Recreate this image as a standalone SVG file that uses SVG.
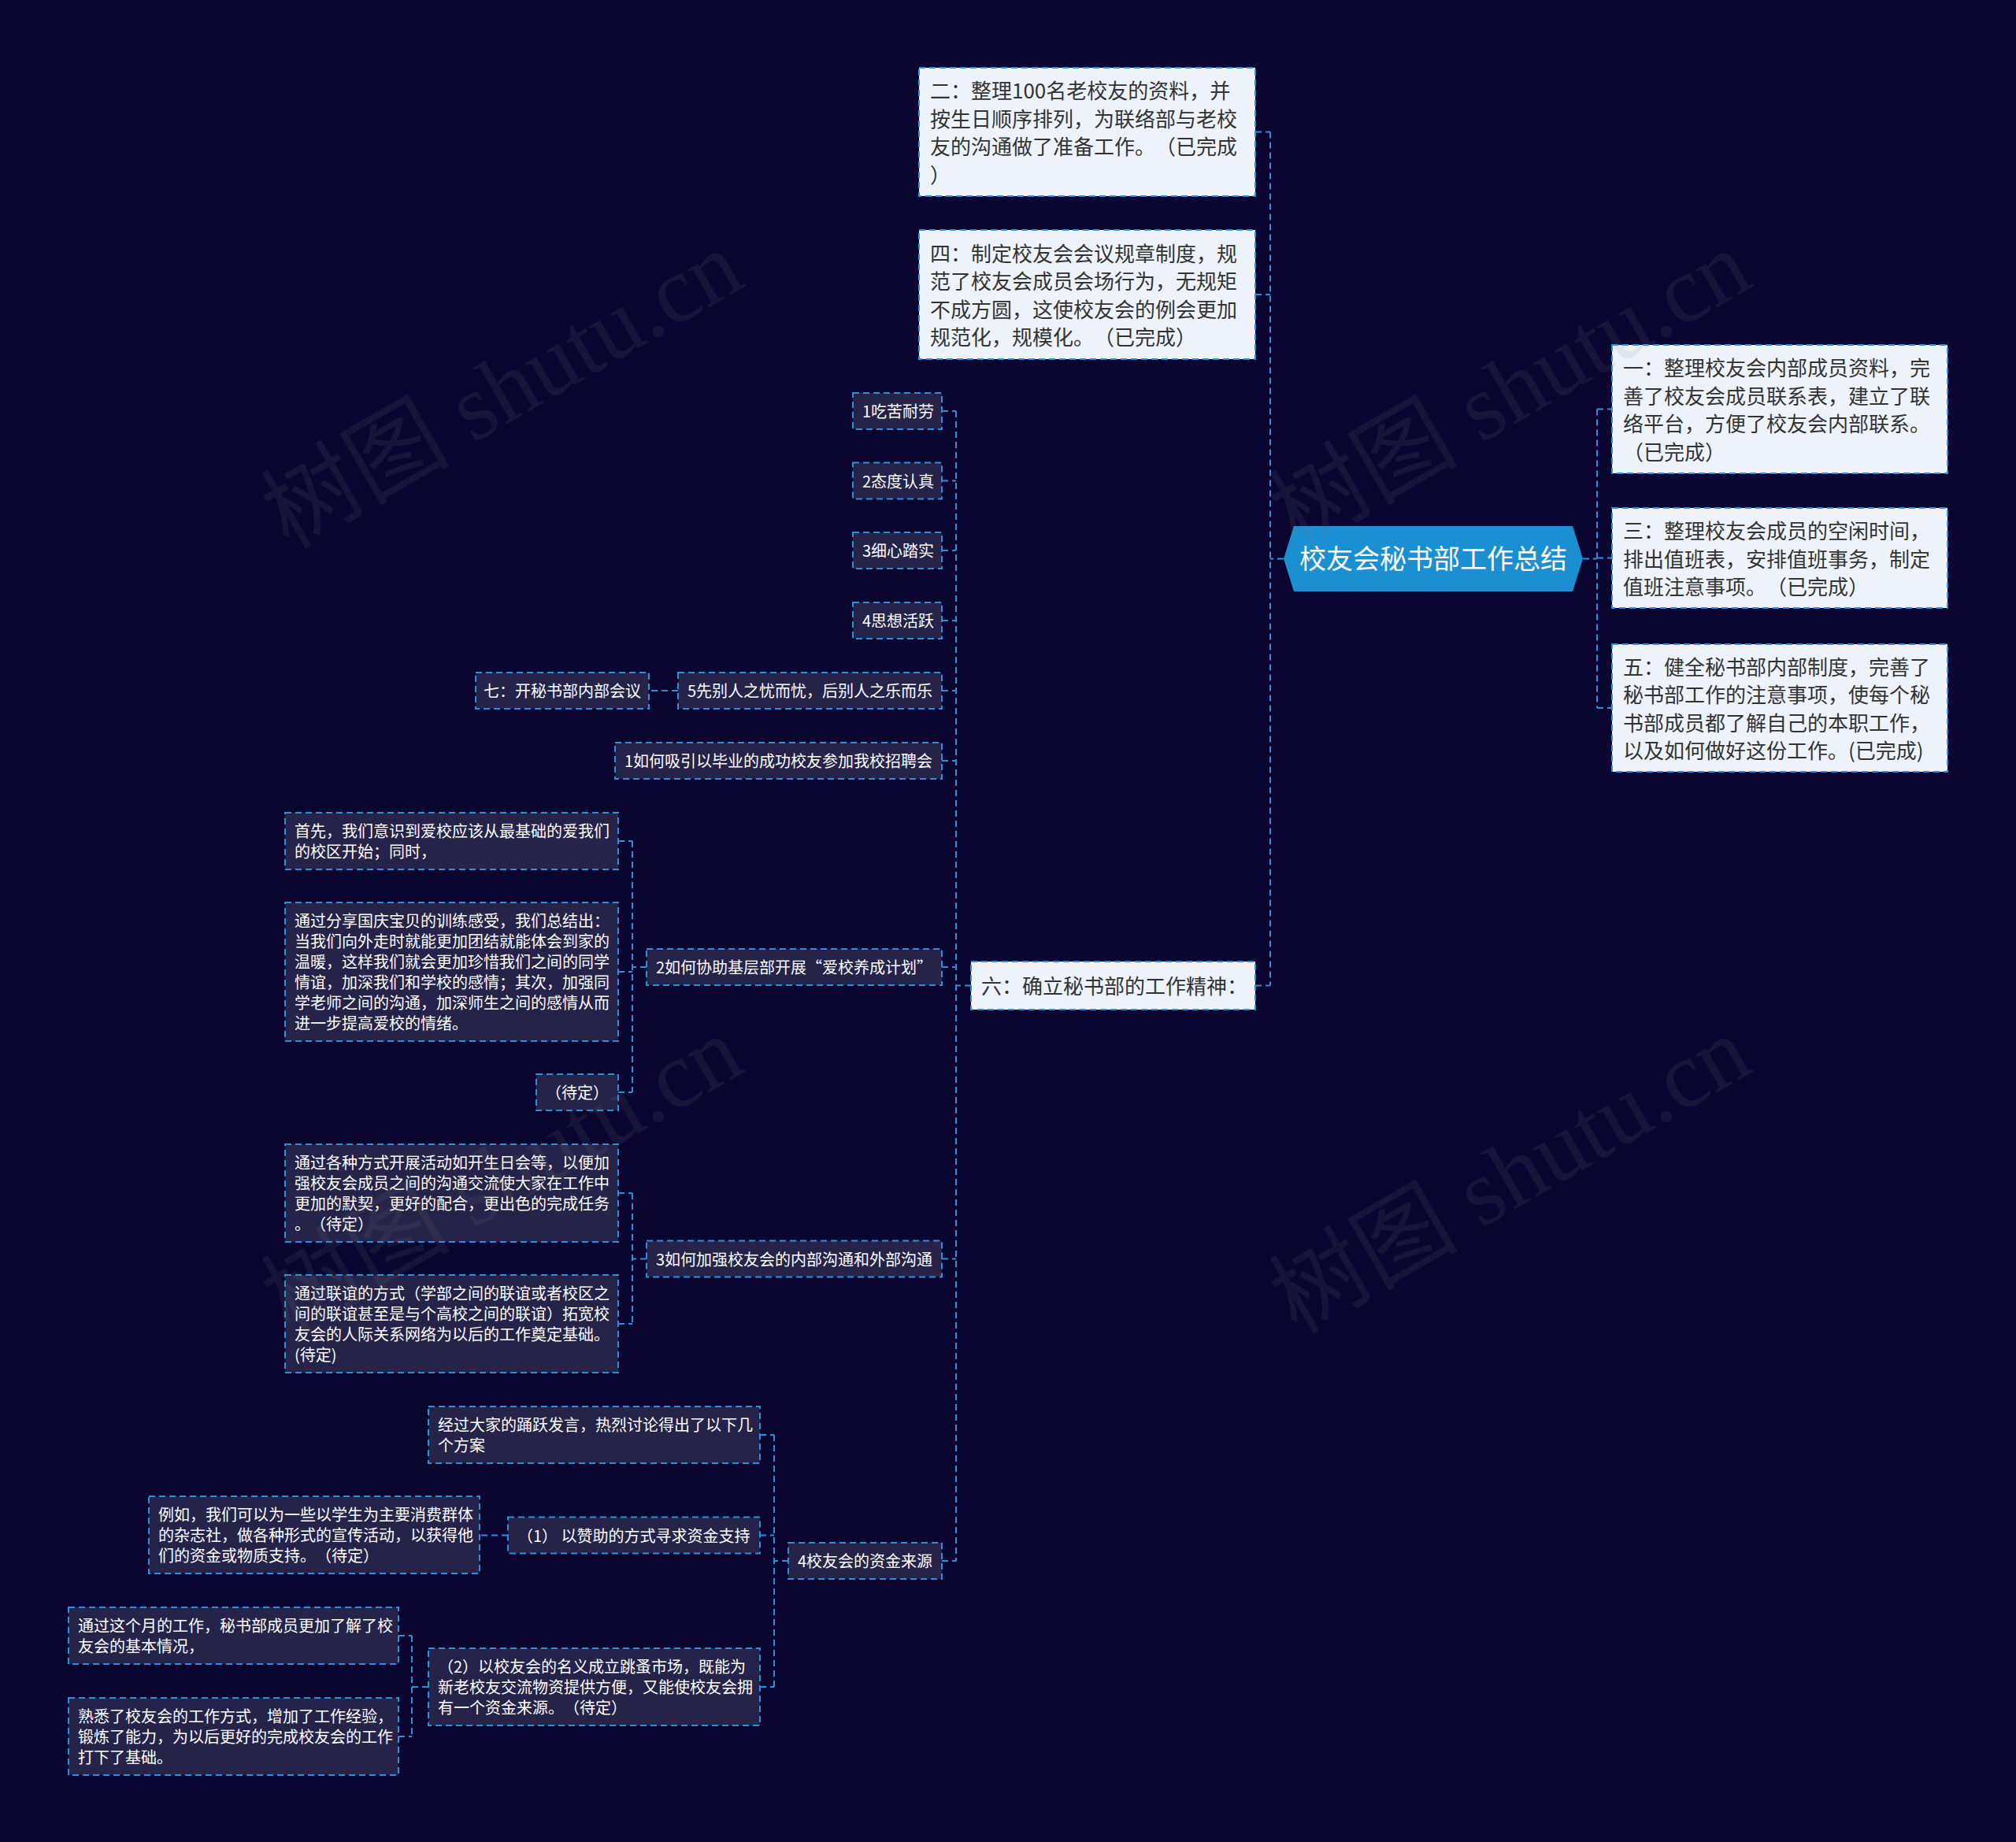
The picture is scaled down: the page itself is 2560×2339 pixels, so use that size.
<svg xmlns="http://www.w3.org/2000/svg" width="2560" height="2339" viewBox="0 0 2560 2339">
<style>
text{text-spacing-trim:space-all}
.l1 rect{fill:#eef3fb;stroke:#2e8fd9;stroke-width:2;stroke-dasharray:8 5}
.l2 rect{fill:#25234a;stroke:#2e8fd9;stroke-width:2;stroke-dasharray:8 5}
.l1 text{font-family:"Noto Sans CJK SC","Microsoft YaHei",sans-serif;font-size:26px;fill:#333333}
.l2 text{font-family:"Noto Sans CJK SC","Microsoft YaHei",sans-serif;font-size:20px;fill:#ffffff}
.conn path{fill:none;stroke:#2e8fd9;stroke-width:2;stroke-dasharray:8 5}
.wm{font-family:"Liberation Serif","Noto Sans CJK SC",serif;font-size:120px;fill:#808080;opacity:0.12}
</style>
<rect x="0" y="0" width="2560" height="2339" fill="#090530"/>

<g id="connectors" class="conn">
<path d="M1630,709.5 H1613 M1613,167.5 V1251.5 M1594,167.5 H1613 M1594,374 H1613 M1594,1251.5 H1613"/>
<path d="M2010,709.5 H2028 M2028,519.5 V899 M2028,519.5 H2047 M2028,708.5 H2047 M2028,899 H2047"/>
<path d="M1233,1251.5 H1214 M1214,522 V1982 M1196,522 H1214 M1196,610.5 H1214 M1196,699 H1214 M1196,788 H1214 M1196,877 H1214 M1196,966 H1214 M1196,1228 H1214 M1196,1598.5 H1214 M1196,1982 H1214"/>
<path d="M861,877 H824"/>
<path d="M821,1228 H803 M803,1068 V1387 M785,1068 H803 M785,1234 H803 M785,1387 H803"/>
<path d="M821,1598.5 H803 M803,1515 V1681 M785,1515 H803 M785,1681 H803"/>
<path d="M1001,1982 H983 M983,1822 V2142 M965,1822 H983 M965,1949.5 H983 M965,2142 H983"/>
<path d="M645,1949.5 H609"/>
<path d="M544,2142 H523 M523,2077 V2205 M506,2077 H523 M506,2205 H523"/>
</g>

<g id="root">
<polygon points="1630,709.5 1643,668 1997,668 2010,709.5 1997,751 1643,751" fill="#1a90d2"/>
<text x="1820" y="722" text-anchor="middle" font-family="Noto Sans CJK SC, Microsoft YaHei, sans-serif" font-size="34" fill="#ffffff">校友会秘书部工作总结</text>
</g>

<g id="n2" class="l1">
<rect x="1167" y="86" width="427" height="163"/>
<text x="1181" y="125">二：整理100名老校友的资料，并</text>
<text x="1181" y="161">按生日顺序排列，为联络部与老校</text>
<text x="1181" y="196">友的沟通做了准备工作。（已完成</text>
<text x="1181" y="232">）</text>
</g>
<g id="n4" class="l1">
<rect x="1167" y="292" width="427" height="164"/>
<text x="1181" y="332">四：制定校友会会议规章制度，规</text>
<text x="1181" y="367">范了校友会成员会场行为，无规矩</text>
<text x="1181" y="403">不成方圆，这使校友会的例会更加</text>
<text x="1181" y="438">规范化，规模化。（已完成）</text>
</g>
<g id="n6" class="l1">
<rect x="1233" y="1221" width="361" height="61"/>
<text x="1246" y="1262">六：确立秘书部的工作精神：</text>
</g>
<g id="n1" class="l1">
<rect x="2047" y="438" width="426" height="163"/>
<text x="2061" y="477">一：整理校友会内部成员资料，完</text>
<text x="2061" y="513">善了校友会成员联系表，建立了联</text>
<text x="2061" y="548">络平台，方便了校友会内部联系。</text>
<text x="2061" y="584">（已完成）</text>
</g>
<g id="n3" class="l1">
<rect x="2047" y="645" width="426" height="127"/>
<text x="2061" y="684">三：整理校友会成员的空闲时间，</text>
<text x="2061" y="720">排出值班表，安排值班事务，制定</text>
<text x="2061" y="755">值班注意事项。（已完成）</text>
</g>
<g id="n5" class="l1">
<rect x="2047" y="818" width="426" height="162"/>
<text x="2061" y="857">五：健全秘书部内部制度，完善了</text>
<text x="2061" y="892">秘书部工作的注意事项，使每个秘</text>
<text x="2061" y="928">书部成员都了解自己的本职工作，</text>
<text x="2061" y="963">以及如何做好这份工作。(已完成)</text>
</g>

<g id="s1" class="l2"><rect x="1083" y="499" width="113" height="46"/><text x="1095" y="530">1吃苦耐劳</text></g>
<g id="s2" class="l2"><rect x="1083" y="587.5" width="113" height="46"/><text x="1095" y="618.5">2态度认真</text></g>
<g id="s3" class="l2"><rect x="1083" y="676" width="113" height="46"/><text x="1095" y="707">3细心踏实</text></g>
<g id="s4" class="l2"><rect x="1083" y="765" width="113" height="46"/><text x="1095" y="796">4思想活跃</text></g>
<g id="s5" class="l2"><rect x="861" y="854" width="335" height="46"/><text x="873" y="885">5先别人之忧而忧，后别人之乐而乐</text></g>
<g id="s7" class="l2"><rect x="604" y="854" width="220" height="46"/><text x="614" y="885">七：开秘书部内部会议</text></g>
<g id="s6" class="l2"><rect x="781" y="943" width="415" height="46"/><text x="793" y="974">1如何吸引以毕业的成功校友参加我校招聘会</text></g>
<g id="q2" class="l2"><rect x="821" y="1205" width="375" height="46"/><text x="833" y="1236">2如何协助基层部开展“爱校养成计划”</text></g>
<g id="q3" class="l2"><rect x="821" y="1575.5" width="375" height="46"/><text x="833" y="1606.5">3如何加强校友会的内部沟通和外部沟通</text></g>
<g id="q4" class="l2"><rect x="1001" y="1959" width="195" height="46"/><text x="1013" y="1990">4校友会的资金来源</text></g>

<g id="qa" class="l2"><rect x="362" y="1032" width="423" height="72"/>
<text x="374" y="1063">首先，我们意识到爱校应该从最基础的爱我们</text>
<text x="374" y="1089">的校区开始；同时，</text></g>
<g id="qb" class="l2"><rect x="362" y="1146" width="423" height="176"/>
<text x="374" y="1177">通过分享国庆宝贝的训练感受，我们总结出：</text>
<text x="374" y="1203">当我们向外走时就能更加团结就能体会到家的</text>
<text x="374" y="1229">温暖，这样我们就会更加珍惜我们之间的同学</text>
<text x="374" y="1255">情谊，加深我们和学校的感情；其次，加强同</text>
<text x="374" y="1281">学老师之间的沟通，加深师生之间的感情从而</text>
<text x="374" y="1307">进一步提高爱校的情绪。</text></g>
<g id="qc" class="l2"><rect x="681" y="1364" width="104" height="46"/><text x="693" y="1395">（待定）</text></g>

<g id="qd" class="l2"><rect x="362" y="1453" width="423" height="124"/>
<text x="374" y="1484">通过各种方式开展活动如开生日会等，以便加</text>
<text x="374" y="1510">强校友会成员之间的沟通交流使大家在工作中</text>
<text x="374" y="1536">更加的默契，更好的配合，更出色的完成任务</text>
<text x="374" y="1562">。（待定）</text></g>
<g id="qe" class="l2"><rect x="362" y="1619" width="423" height="124"/>
<text x="374" y="1650">通过联谊的方式（学部之间的联谊或者校区之</text>
<text x="374" y="1676">间的联谊甚至是与个高校之间的联谊）拓宽校</text>
<text x="374" y="1702">友会的人际关系网络为以后的工作奠定基础。</text>
<text x="374" y="1728">(待定)</text></g>

<g id="qf" class="l2"><rect x="544" y="1786" width="421" height="72"/>
<text x="556" y="1817">经过大家的踊跃发言，热烈讨论得出了以下几</text>
<text x="556" y="1843">个方案</text></g>
<g id="qg" class="l2"><rect x="645" y="1926.5" width="320" height="46"/><text x="657" y="1957.5">（1） 以赞助的方式寻求资金支持</text></g>
<g id="qh" class="l2"><rect x="189" y="1900" width="420" height="98"/>
<text x="201" y="1931">例如，我们可以为一些以学生为主要消费群体</text>
<text x="201" y="1957">的杂志社，做各种形式的宣传活动，以获得他</text>
<text x="201" y="1983">们的资金或物质支持。（待定）</text></g>
<g id="qi" class="l2"><rect x="544" y="2093" width="421" height="98"/>
<text x="556" y="2124">（2）以校友会的名义成立跳蚤市场，既能为</text>
<text x="556" y="2150">新老校友交流物资提供方便，又能使校友会拥</text>
<text x="556" y="2176">有一个资金来源。（待定）</text></g>
<g id="qj" class="l2"><rect x="87" y="2041" width="419" height="72"/>
<text x="99" y="2072">通过这个月的工作，秘书部成员更加了解了校</text>
<text x="99" y="2098">友会的基本情况，</text></g>
<g id="qk" class="l2"><rect x="87" y="2156" width="419" height="98"/>
<text x="99" y="2187">熟悉了校友会的工作方式，增加了工作经验，</text>
<text x="99" y="2213">锻炼了能力，为以后更好的完成校友会的工作</text>
<text x="99" y="2239">打下了基础。</text></g>

<g id="watermark">
<text class="wm" x="658" y="530" text-anchor="middle" transform="rotate(-30 658 530)">树图 shutu.cn</text>
<text class="wm" x="1938" y="530" text-anchor="middle" transform="rotate(-30 1938 530)">树图 shutu.cn</text>
<text class="wm" x="658" y="1527" text-anchor="middle" transform="rotate(-30 658 1527)">树图 shutu.cn</text>
<text class="wm" x="1938" y="1527" text-anchor="middle" transform="rotate(-30 1938 1527)">树图 shutu.cn</text>
</g>
</svg>
